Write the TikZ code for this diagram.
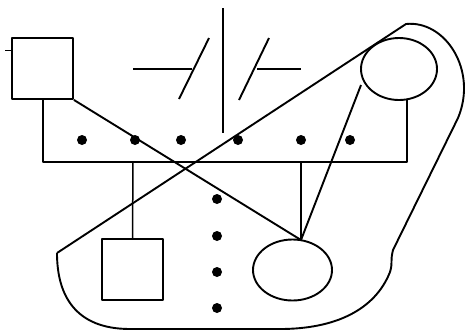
\documentclass[tikz,border=0pt]{standalone}
\begin{document}
\begin{tikzpicture}[x=1pt,y=-1pt,line width=1.9pt,line join=round,
  dotn/.style={circle,fill=black,inner sep=0pt,minimum size=10pt},
  boxn/.style={draw,inner sep=0pt,minimum width=61pt,minimum height=61pt},
  thin line/.style={line width=1.5pt}]
\useasboundingbox (0,0) rectangle (465,330);
% squares and ellipses
\node[boxn] (sq1) at (42.5,68.5) {};
\node[boxn] (sq2) at (132.5,269.5) {};
\draw (399,69) ellipse [x radius=38,y radius=31];
\draw (292.5,270) ellipse [x radius=39.5,y radius=30.5];
\coordinate (el2top) at (301,240);
\coordinate (el1bot) at (407,100);
\coordinate (el1left) at (361,85);
% tick
\draw[line width=0.7pt] (5,50) -- (12,50);
% sibship bar
\coordinate (b1) at (43,99);
\coordinate (b2) at (43,162);
\coordinate (b3) at (407,162);
\draw[thin line] (b1) -- (b2) -- (b3) -- (el1bot);
\draw[thin line] (133,162) -- (sq2.north);
\draw[thin line] (301,162) -- (el2top);
% crossing lines
\draw (sq1.south east) -- (el2top);
\draw (el1left) -- (el2top);
% central vertical
\draw (223,8) -- (223,133);
% slashes
\draw (133,69) -- (192,69);
\draw (209,38) -- (179,99);
\draw (269,38) -- (239,100);
\draw (257,69) -- (301,69);
% dots
\foreach \x/\n in {82/a,135/b,181/c,238/d,301/e,350/f}
  \node[dotn] (d\n) at (\x,140) {};
\foreach \y/\n in {199/g,236/h,272/i,308/j}
  \node[dotn] (d\n) at (217,\y) {};
% outline
\draw (57,253) -- (406,24)
  .. controls (445,20) and (478,70) .. (458,118)
  -- (393,250)
  .. controls (390,262) and (393,262) .. (390,272)
  .. controls (375,310) and (335,329) .. (280,329)
  -- (130,329)
  .. controls (75,329) and (57,295) .. (57,253);
\end{tikzpicture}
\end{document}
